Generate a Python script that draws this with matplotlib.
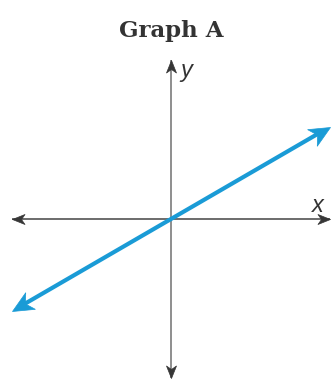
import matplotlib.pyplot as plt
from matplotlib.markers import MarkerStyle
from matplotlib.path import Path
from matplotlib.transforms import Affine2D
import numpy as np

# Datos
title = "Graph A"
x_label = "x"
y_label = "y"
axis_min, axis_max = -5, 5
line_x = [-5, 5]
line_y = [-2.9, 2.9]

blue = "#1a9bd6"
dark = "#363636"

fig = plt.figure(figsize=(3.33, 3.87), dpi=100)
# ejes cuadrados: 12..330 px en horizontal, 60..378 px en vertical
ax = fig.add_axes([12 / 333, 9 / 387, 318 / 333, 318 / 387])
ax.set_xlim(axis_min, axis_max)
ax.set_ylim(axis_min, axis_max)
ax.axis("off")


def arrow_head(x, y, angle, size, half_w, color):
    # punta con muesca, la punta queda en el origen del marcador
    path = Path([(0, 0), (-1, half_w), (-0.72, 0), (-1, -half_w), (0, 0)],
                [Path.MOVETO, Path.LINETO, Path.LINETO, Path.LINETO, Path.CLOSEPOLY])
    m = MarkerStyle(path, transform=Affine2D().rotate_deg(angle))
    ax.plot([x], [y], marker=m, markersize=size, color=color, mec=color,
            mew=0.5, linestyle="none", clip_on=False, zorder=5)


# Eje x
ax.plot([axis_min, axis_max], [0, 0], color="#444444", lw=1.1, solid_capstyle="butt")
# Eje y
ax.plot([0, 0], [axis_min, axis_max], color="#707070", lw=1.1, solid_capstyle="butt")
for x, y, a in [(axis_max, 0, 0), (axis_min, 0, 180), (0, axis_max, 90), (0, axis_min, 270)]:
    arrow_head(x, y, a, 18, 0.4, dark)

# Recta azul (acortada en los extremos para que no asome por la muesca)
ax.annotate("", xy=(line_x[1], line_y[1]), xytext=(line_x[0], line_y[0]),
            arrowprops=dict(arrowstyle="-", color=blue, lw=3.0,
                            shrinkA=9, shrinkB=9))
ang = np.degrees(np.arctan2(line_y[1] - line_y[0], line_x[1] - line_x[0]))
arrow_head(line_x[1], line_y[1], ang, 30, 0.46, blue)
arrow_head(line_x[0], line_y[0], ang + 180, 30, 0.46, blue)

ax.text(4.62, 0.22, x_label, fontsize=17, style="italic", family="Liberation Sans",
        color="#333333", ha="center", va="baseline")
ax.text(0.3, 4.45, y_label, fontsize=17, style="italic", family="Liberation Sans",
        color="#333333", ha="left", va="baseline")

fig.text(171.5 / 333, 1 - 37.5 / 387, title, fontsize=16.5, fontweight="bold",
         family="DejaVu Serif", color="#333333", ha="center", va="baseline")

fig.savefig("out.png", dpi=100, facecolor="white")
